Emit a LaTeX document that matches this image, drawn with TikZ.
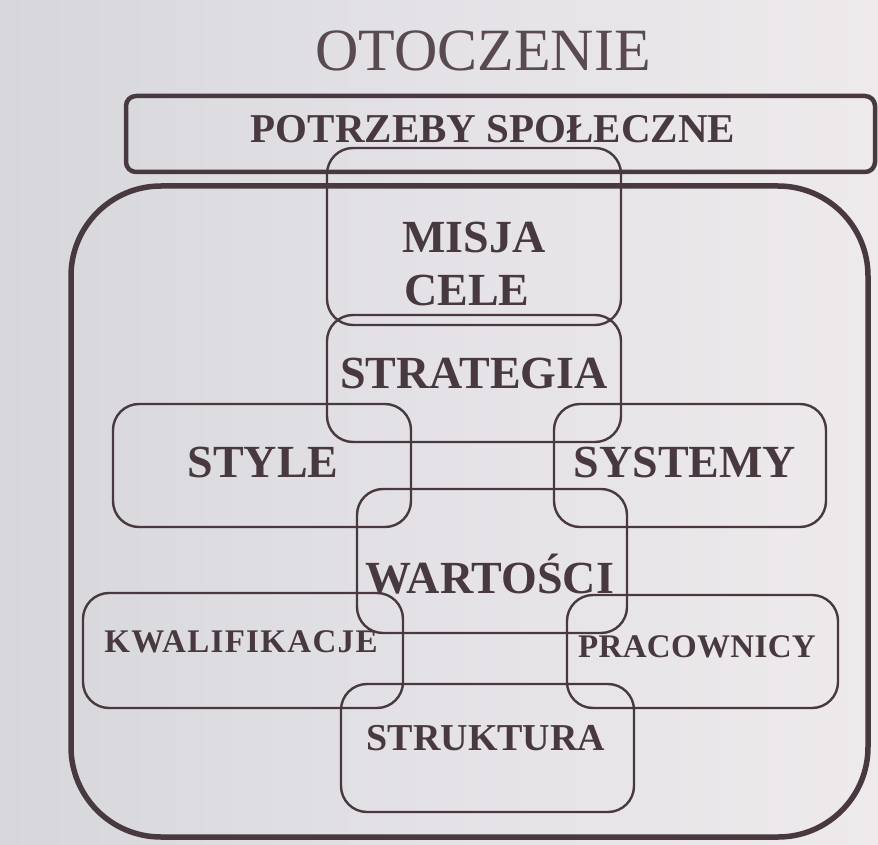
\documentclass[tikz,border=0pt]{standalone}
\usepackage{fontspec}
\setmainfont{Liberation Serif}
\usetikzlibrary{shadings}
\definecolor{ink}{RGB}{72,56,64}
\definecolor{inklight}{RGB}{88,74,80}
\definecolor{paperL}{RGB}{214,214,219}
\definecolor{paperM}{RGB}{228,226,230}
\definecolor{paperR}{RGB}{238,234,236}
\tikzset{
  frame/.style={draw=ink, line width=2.4pt, rounded corners=#1, inner sep=0pt, outer sep=0pt},
  frame/.default=26pt,
  bigtxt/.style={anchor=base, text=ink, inner sep=0pt, font=\fontsize{46}{50}\selectfont\bfseries},
  midtxt/.style={anchor=base, text=ink, inner sep=0pt, font=\fontsize{41}{45}\selectfont\bfseries},
  smalltxt/.style={anchor=base, text=ink, inner sep=0pt, font=\fontsize{33}{36}\selectfont\bfseries},
}
\newcommand{\bx}[5]{% name, x1, y1, x2, y2
  \node[frame, minimum width={#4-#2}, minimum height={#5-#3}] (#1) at ({(#2+#4)/2},{(#3+#5)/2}) {};}
\begin{document}
\begin{tikzpicture}[x=1pt, y=-1pt]
  % paper
  \shade[left color=paperL, right color=paperR, middle color=paperM] (0,0) rectangle (878,845);
  \useasboundingbox (0,0) rectangle (878,845);

  % environment title
  \node[anchor=base, text=inklight, inner sep=0pt, font=\fontsize{60}{64}\selectfont] (otoczenie) at (483,71) {OTOCZENIE};

  % organisation frame
  \node[draw=ink, line width=5.5pt, rounded corners=90pt, inner sep=0pt,
        minimum width=797, minimum height=651] (org) at (469.5,511.5) {};

  % social needs bar
  \node[draw=ink, line width=4.5pt, rounded corners=10pt, inner sep=0pt,
        minimum width=749, minimum height=76] (needs) at (500.5,134) {};
  \node[midtxt] (needstxt) at (493,143) {POTRZEBY SPOŁECZNE};

  % element boxes
  \bx{misjabox}{327}{148}{621}{325}
  \bx{strategiabox}{327}{315}{621}{442}
  \bx{stylebox}{113}{404}{411}{527}
  \bx{systemybox}{554}{404}{826}{527}
  \bx{wartoscibox}{357}{489}{627}{633}
  \bx{kwalifbox}{83}{593}{403}{708}
  \bx{pracownicybox}{567}{595}{838}{708}
  \bx{strukturabox}{341}{684}{634}{812}

  % labels
  \node[bigtxt] (misja) at (474,252) {MISJA};
  \node[bigtxt] (cele) at (467,305) {CELE};
  \node[bigtxt] (strategia) at (474,388) {STRATEGIA};
  \node[bigtxt] (style) at (263,477) {STYLE};
  \node[bigtxt] (systemy) at (685,477) {SYSTEMY};
  \node[bigtxt] (wartosci) at (490,593) {WARTOŚCI};
  \node[smalltxt] (kwalif) at (241,652) {\addfontfeatures{LetterSpace=4}KWALIFIKACJE};
  \node[smalltxt] (pracownicy) at (697,657) {\addfontfeatures{LetterSpace=1}PRACOWNICY};
  \node[smalltxt, font=\fontsize{38}{42}\selectfont\bfseries] (struktura) at (486,750) {STRUKTURA};
\end{tikzpicture}
\end{document}
